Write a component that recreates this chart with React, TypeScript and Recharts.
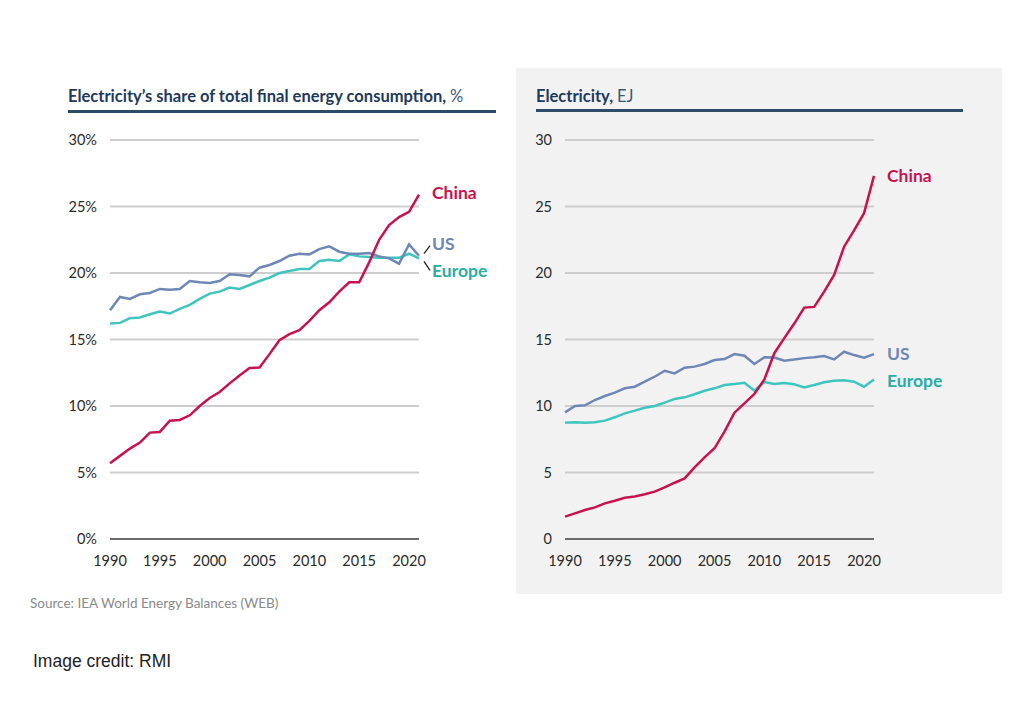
import React from "react";
import { LineChart, Line, XAxis, YAxis, CartesianGrid } from "recharts";

const years = [1990, 1991, 1992, 1993, 1994, 1995, 1996, 1997, 1998, 1999, 2000, 2001, 2002, 2003, 2004, 2005, 2006, 2007, 2008, 2009, 2010, 2011, 2012, 2013, 2014, 2015, 2016, 2017, 2018, 2019, 2020, 2021];
const yearTicks = [1990, 1995, 2000, 2005, 2010, 2015, 2020];

const shareChina = [5.7, 6.25, 6.8, 7.25, 8.0, 8.05, 8.9, 8.95, 9.3, 10.0, 10.6, 11.05, 11.7, 12.3, 12.85, 12.9, 13.9, 14.95, 15.4, 15.7, 16.4, 17.2, 17.8, 18.6, 19.3, 19.3, 20.8, 22.5, 23.6, 24.2, 24.6, 25.9];
const shareUS = [17.2, 18.2, 18.05, 18.4, 18.5, 18.8, 18.75, 18.8, 19.4, 19.3, 19.25, 19.4, 19.9, 19.85, 19.75, 20.4, 20.6, 20.9, 21.3, 21.45, 21.4, 21.8, 22.0, 21.6, 21.45, 21.45, 21.5, 21.25, 21.1, 20.7, 22.15, 21.3];
const shareEurope = [16.2, 16.25, 16.6, 16.65, 16.9, 17.1, 16.95, 17.3, 17.6, 18.05, 18.45, 18.6, 18.9, 18.8, 19.1, 19.4, 19.65, 20.0, 20.15, 20.3, 20.3, 20.9, 21.0, 20.9, 21.4, 21.25, 21.2, 21.15, 21.15, 21.15, 21.45, 21.1];
const shareTicks = [0, 5, 10, 15, 20, 25, 30];

const ejChina = [1.68, 1.93, 2.18, 2.38, 2.68, 2.88, 3.1, 3.2, 3.36, 3.56, 3.88, 4.23, 4.56, 5.39, 6.14, 6.82, 8.07, 9.5, 10.2, 10.9, 12.0, 13.97, 15.1, 16.2, 17.4, 17.45, 18.6, 19.85, 21.98, 23.2, 24.5, 27.3];
const ejUS = [9.52, 10.0, 10.05, 10.45, 10.75, 11.0, 11.33, 11.45, 11.83, 12.2, 12.65, 12.45, 12.88, 12.96, 13.16, 13.46, 13.53, 13.9, 13.78, 13.16, 13.66, 13.64, 13.4, 13.5, 13.6, 13.66, 13.76, 13.5, 14.08, 13.83, 13.63, 13.9];
const ejEurope = [8.75, 8.78, 8.75, 8.78, 8.9, 9.15, 9.45, 9.65, 9.87, 10.0, 10.25, 10.53, 10.65, 10.88, 11.15, 11.33, 11.58, 11.65, 11.75, 11.15, 11.8, 11.65, 11.73, 11.63, 11.4, 11.58, 11.78, 11.9, 11.93, 11.83, 11.45, 12.0];
const ejTicks = [0, 5, 10, 15, 20, 25, 30];

const C_CHINA = "#c8124f";
const C_US = "#6f87b4";
const C_EU_LINE = "#3ec5bd";
const C_EU_TEXT = "#2bada4";
const FONT = "Lato, 'Noto Sans', sans-serif";

const shareData = years.map((y, i) => ({ year: y, china: shareChina[i], us: shareUS[i], europe: shareEurope[i] }));
const ejData = years.map((y, i) => ({ year: y, china: ejChina[i], us: ejUS[i], europe: ejEurope[i] }));
const last = years.length - 1;

function endLabel(text: string, color: string, dy: number, leader: number) {
  return (props: any) => {
    const { x, y, index } = props;
    if (index !== last) return null;
    return (
      <g>
        {leader !== 0 && (
          <line x1={x + 5} y1={y + (leader < 0 ? -2 : 3)} x2={x + 11} y2={y + (leader < 0 ? -10 : 12)} stroke="#222" strokeWidth={1.3} />
        )}
        <text x={x + 13} y={y + dy} dy="0.35em" fill={color} fontSize={17.5} fontWeight={700} fontFamily={FONT}>
          {text}
        </text>
      </g>
    );
  };
}

const tickStyle = { fill: "#2a2a2a", fontSize: 14.5, fontFamily: FONT };

function Panel(props: { data: any[]; ticks: number[]; fmt: (v: number) => string; left: number; leaders: boolean; offsets: number[] }) {
  const { data, ticks, fmt, left, leaders, offsets } = props;
  return (
    <div style={{ position: "absolute", left, top: 120 }}>
      <LineChart width={460} height={460} data={data} margin={{ top: 20, right: 91, bottom: 11, left: 0 }}>
        <CartesianGrid horizontal vertical={false} stroke="#cdcdcd" strokeWidth={2} />
        <XAxis
          dataKey="year"
          type="number"
          domain={[1990, 2021]}
          ticks={yearTicks}
          tickLine={false}
          axisLine={{ stroke: "#4a4a4a", strokeWidth: 1.5 }}
          tick={tickStyle}
          tickMargin={11}
          height={30}
          interval={0}
        />
        <YAxis
          type="number"
          domain={[0, 30]}
          ticks={ticks}
          tickFormatter={fmt}
          tickLine={false}
          axisLine={false}
          tick={tickStyle}
          tickMargin={7}
          width={60}
          interval={0}
        />
        <Line dataKey="europe" stroke={C_EU_LINE} strokeWidth={2.5} dot={false} isAnimationActive={false} label={endLabel("Europe", C_EU_TEXT, offsets[2], leaders ? 1 : 0)} />
        <Line dataKey="us" stroke={C_US} strokeWidth={2.5} dot={false} isAnimationActive={false} label={endLabel("US", C_US, offsets[1], leaders ? -1 : 0)} />
        <Line dataKey="china" stroke={C_CHINA} strokeWidth={2.5} dot={false} isAnimationActive={false} label={endLabel("China", C_CHINA, offsets[0], 0)} />
      </LineChart>
    </div>
  );
}

export default function App() {
  return (
    <div style={{ position: "absolute", left: 0, top: 0, width: 1024, height: 720, background: "#fff", fontFamily: FONT, overflow: "hidden" }}>
      <div style={{ position: "absolute", left: 516, top: 68, width: 486, height: 526, background: "#f2f2f2" }} />
      <div style={{ position: "absolute", left: 68, top: 86, fontSize: 16.5, fontWeight: 700, color: "#1d3a5c", whiteSpace: "nowrap", lineHeight: "20px" }}>
        Electricity’s share of total final energy consumption, <span style={{ fontWeight: 400, color: "#3a5878" }}>%</span>
      </div>
      <div style={{ position: "absolute", left: 68, top: 110, width: 428, height: 3, background: "#2d4b68" }} />
      <div style={{ position: "absolute", left: 536, top: 86, fontSize: 16.5, fontWeight: 700, color: "#1d3a5c", whiteSpace: "nowrap", lineHeight: "20px" }}>
        Electricity, <span style={{ fontWeight: 400, color: "#3a5878" }}>EJ</span>
      </div>
      <div style={{ position: "absolute", left: 536, top: 109, width: 427, height: 3, background: "#2d4b68" }} />

      <Panel data={shareData} ticks={shareTicks} fmt={(v) => `${v}%`} left={50} leaders={true} offsets={[-2, -12, 13]} />
      <Panel data={ejData} ticks={ejTicks} fmt={(v) => `${v}`} left={505} leaders={false} offsets={[0, 0, 1]} />

      <div style={{ position: "absolute", left: 30, top: 595, fontSize: 13.5, color: "#8a8a8a", whiteSpace: "nowrap", lineHeight: "16px" }}>
        Source: IEA World Energy Balances (WEB)
      </div>
      <div style={{ position: "absolute", left: 33, top: 651, fontSize: 17.5, color: "#222", fontFamily: "'Liberation Sans', Arial, sans-serif", whiteSpace: "nowrap", lineHeight: "20px" }}>
        Image credit: RMI
      </div>
    </div>
  );
}
